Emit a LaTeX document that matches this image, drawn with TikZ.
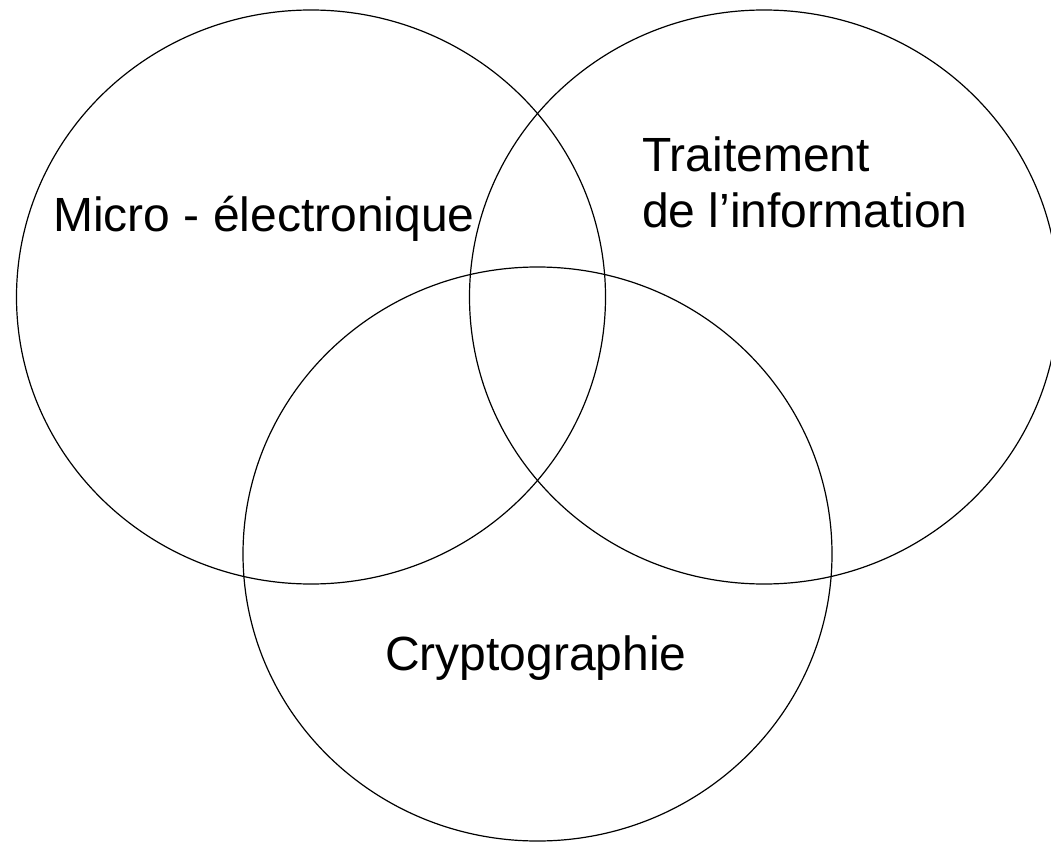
\documentclass[tikz,border=0pt]{standalone}
\usepackage{fontspec}
\setmainfont{Liberation Sans}
\begin{document}
\begin{tikzpicture}[x=1pt,y=-1pt,
    setline/.style={line width=1.2pt},
    settext/.style={inner sep=0pt,anchor=base west,font=\fontsize{48}{56}\selectfont}]
      % the page, in pixels of the picture
      \useasboundingbox (0,0) rectangle (1051,842);
      %%%% the three sets
      \foreach \cx/\cy in {311/297,764/297,537.5/554}
      {
        \draw[setline] (\cx,\cy) ellipse (294.5 and 287);
      }
      %%%% the names of the sets
      \node[settext] (micro) at (53,232) {Micro - électronique};
      \node[settext] (trait) at (642,172) {Traitement};
      \node[settext] (info) at (642,228) {de l’information};
      \node[settext] (crypto) at (385,670) {Cryptographie};
\end{tikzpicture}
\end{document}
